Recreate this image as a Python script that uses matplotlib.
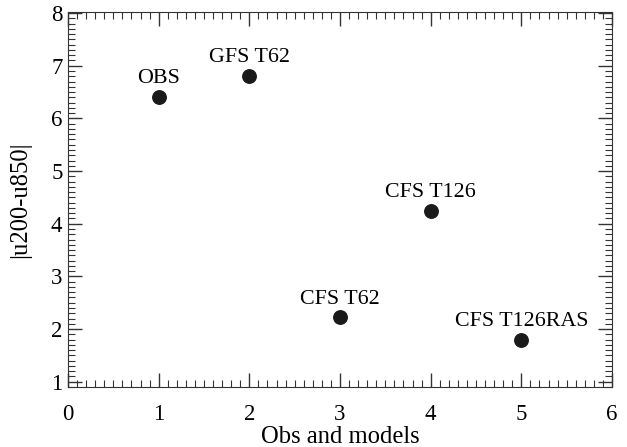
import matplotlib.pyplot as plt
from matplotlib.ticker import MultipleLocator

# values
names = ['OBS', 'GFS T62', 'CFS T62', 'CFS T126', 'CFS T126RAS']
xpos = [1, 2, 3, 4, 5]
shear = [6.40, 6.80, 2.22, 4.24, 1.80]

plt.rcParams['font.family'] = ['Liberation Serif', 'DejaVu Serif']
plt.rcParams['font.size'] = 14

fig = plt.figure(figsize=(6.27, 4.47), dpi=100)
ax = fig.add_axes([68 / 627, 1 - 387 / 447, 544 / 627, 375 / 447])

ax.plot(xpos, shear, 'o', color='#1a1a1a', markersize=9.7, linestyle='none')
for x, y, n in zip(xpos, shear, names):
    ax.annotate(n, (x, y), xytext=(0, 10), textcoords='offset points',
                ha='center', va='baseline', fontsize=15.8)

ax.set_xlim(0, 6)
ax.set_ylim(0.9, 8.02)
ax.xaxis.set_major_locator(MultipleLocator(1))
ax.xaxis.set_minor_locator(MultipleLocator(0.1))
ax.yaxis.set_major_locator(MultipleLocator(1))
ax.yaxis.set_minor_locator(MultipleLocator(0.1))
ax.tick_params(which='both', direction='in', top=True, right=True,
               color='#333333', labelsize=16.5)
ax.tick_params(which='major', length=10, width=1)
ax.tick_params(axis='x', which='major', pad=12)
ax.tick_params(axis='y', which='major', pad=4)
ax.tick_params(which='minor', length=5, width=0.8)
for s in ax.spines.values():
    s.set_color('#333333')

ax.set_xlabel('Obs and models', fontsize=17.7, labelpad=1)
ax.set_ylabel('|u200-u850|', fontsize=17.7, labelpad=14)

fig.savefig('out.png', dpi=100)
